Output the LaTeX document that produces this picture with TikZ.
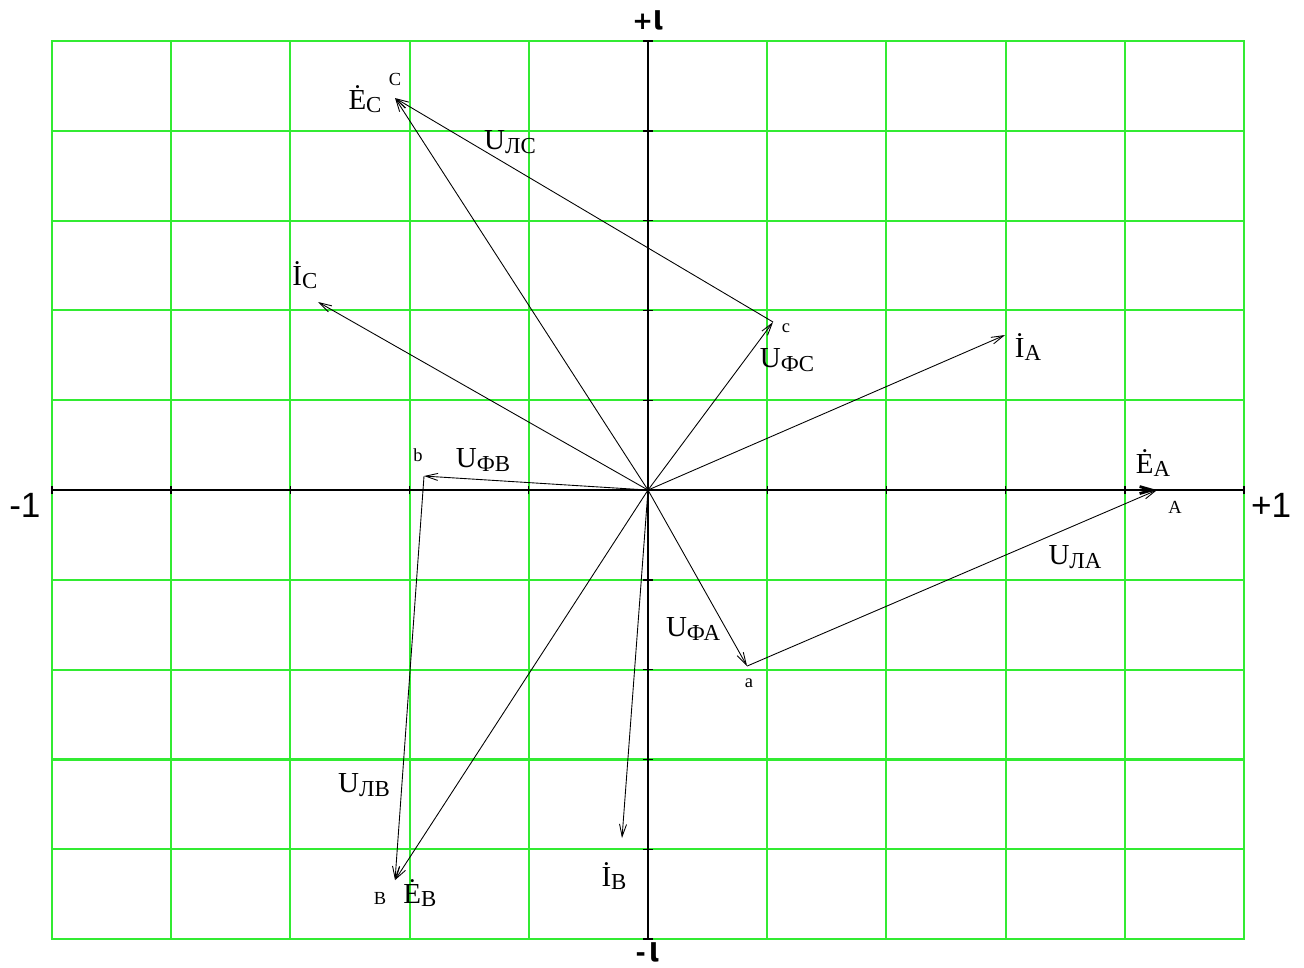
\documentclass[tikz,border=0pt]{standalone}
\usepackage{fontspec}
\setmainfont{Liberation Serif}
\newfontfamily\axisfont{Liberation Sans}
\newfontfamily\imfont{DejaVu Sans}
\usepackage{xcolor}
\usepackage{tikz}
\usetikzlibrary{arrows.meta}

\definecolor{gridgreen}{RGB}{50,235,50}
\newcommand{\phasor}[2]{#1\raisebox{-2pt}{\fontsize{13}{13}\selectfont #2}}
\newcommand{\imunit}{\scalebox{1.1}[1.4]{ι}}

\begin{document}
\begin{tikzpicture}[
    x=2.384cm,
    y=1.796cm,
    >={Straight Barb[length=7pt,width=4pt]},
    gridline/.style={
        draw=gridgreen,
        line width=1.2pt
    },
    axis/.style={
        draw=black,
        line width=0.8pt
    },
    vec/.style={
        ->,
        line width=0.5pt
    },
    lbl/.style={
        font=\fontsize{16.5}{16.5}\selectfont,
        inner sep=0pt
    },
    pt/.style={
        font=\fontsize{10.5}{10.5}\selectfont,
        inner sep=0pt
    },
    axlbl/.style={
        font=\axisfont\fontsize{20}{20}\selectfont,
        inner sep=0pt
    },
    imlbl/.style={
        font=\imfont\bfseries\fontsize{14}{14}\selectfont,
        inner sep=0pt,
        anchor=base
    }
]
\useasboundingbox (-5.436,-5.312) rectangle (5.503,5.457);

% grid
\draw[gridline] (-5,-5) rectangle (5,5);
\foreach \i in {-4,...,4} {
    \draw[gridline] (\i,-5) -- (\i,5);
}
\foreach \j in {-4,...,4} {
    \draw[gridline] (-5,\j) -- (5,\j);
}

% axes
\draw[axis] (-5,0) -- (5,0);
\draw[axis] (0,-5) -- (0,5);
\foreach \i in {-5,...,5} {
    \draw[axis] (\i,-0.045) -- (\i,0.045);
    \draw[axis] (-0.04,\i) -- (0.04,\i);
}
\node[axlbl] (re+) at (5.227,-0.167) {+1};
\node[axlbl] (re-) at (-5.227,-0.167) {-1};
\node[imlbl] (im+) at (0,5.13) {+\imunit};
\node[imlbl] (im-) at (0,-5.25) {-\,\imunit};

% points
\coordinate (O) at (0,0);
\coordinate (A) at (4.27,0);
\coordinate (B) at (-2.122,-4.343);
\coordinate (C) at (-2.122,4.365);
\coordinate (a) at (0.831,-1.96);
\coordinate (b) at (-1.879,0.156);
\coordinate (c) at (1.049,1.871);
\coordinate (IA) at (2.995,1.726);
\coordinate (IB) at (-0.218,-3.875);
\coordinate (IC) at (-2.768,2.094);

% source emfs
\draw[->, line width=1.6pt] (O) -- (A);
\draw[vec] (O) -- (B);
\draw[vec] (O) -- (C);

% currents
\draw[vec] (O) -- (IA);
\draw[vec] (O) -- (IB);
\draw[vec] (O) -- (IC);

% phase and line voltages
\draw[vec] (O) -- (a);
\draw[vec] (O) -- (b);
\draw[vec] (O) -- (c);
\draw[vec] (a) -- (A);
\draw[vec] (b) -- (B);
\draw[vec] (c) -- (C);

% labels
\node[lbl] (EA) at (4.237,0.301) {\phasor{Ė}{A}};
\node[lbl] (EB) at (-1.913,-4.488) {\phasor{Ė}{B}};
\node[lbl] (EC) at (-2.374,4.354) {\phasor{Ė}{C}};
\node[lbl] (IAl) at (3.188,1.592) {\phasor{İ}{A}};
\node[lbl] (IBl) at (-0.285,-4.298) {\phasor{İ}{B}};
\node[lbl] (ICl) at (-2.878,2.394) {\phasor{İ}{C}};
\node[lbl] (UfA) at (0.378,-1.548) {\phasor{U}{ФА}};
\node[lbl] (UfB) at (-1.384,0.334) {\phasor{U}{ФВ}};
\node[lbl] (UfC) at (1.166,1.448) {\phasor{U}{ФС}};
\node[lbl] (UlA) at (3.582,-0.746) {\phasor{U}{ЛА}};
\node[lbl] (UlB) at (-2.383,-3.285) {\phasor{U}{ЛВ}};
\node[lbl] (UlC) at (-1.158,3.875) {\phasor{U}{ЛС}};
\node[pt] (Al) at (4.421,-0.189) {A};
\node[pt] (Bl) at (-2.248,-4.543) {B};
\node[pt] (Cl) at (-2.122,4.577) {C};
\node[pt] (al) at (0.847,-2.149) {a};
\node[pt] (bl) at (-1.930,0.390) {b};
\node[pt] (cl) at (1.158,1.804) {c};

\end{tikzpicture}
\end{document}
